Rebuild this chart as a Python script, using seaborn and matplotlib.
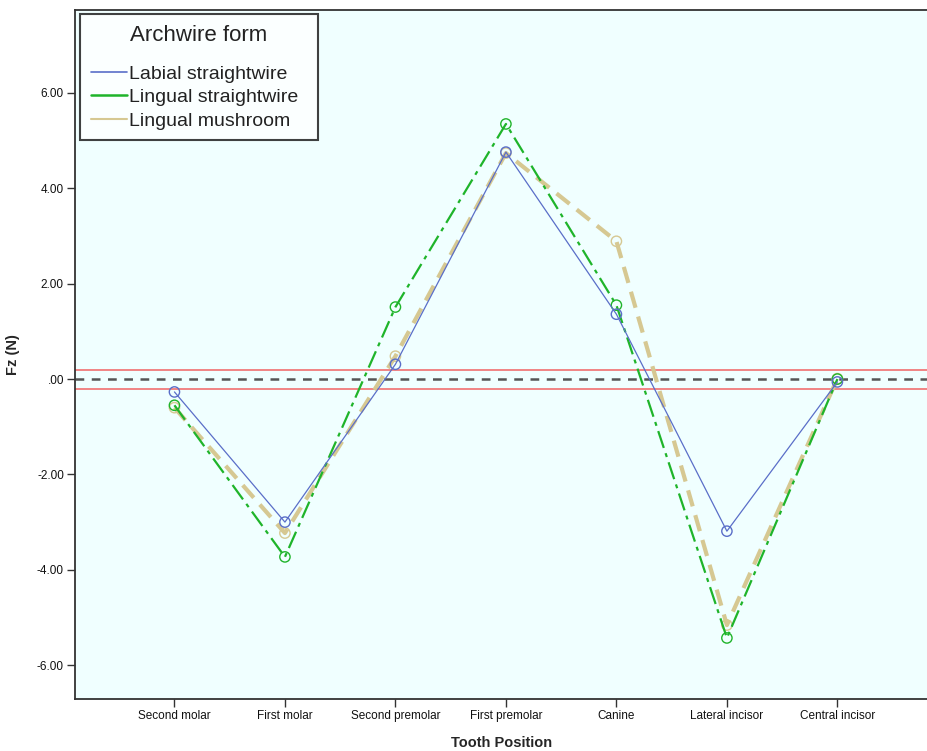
import numpy as np
import pandas as pd
import matplotlib
matplotlib.use("Agg")
import matplotlib.pyplot as plt
from matplotlib.lines import Line2D
from matplotlib.ticker import FuncFormatter
import seaborn as sns

# Tooth positions along the arch (x axis)
teeth = ["Second molar", "First molar", "Second premolar", "First premolar",
         "Canine", "Lateral incisor", "Central incisor"]

# Mean vertical force Fz (N) per archwire form
labial_straightwire = [-0.27, -3.00, 0.31, 4.76, 1.36, -3.19, -0.06]
lingual_straightwire = [-0.55, -3.73, 1.51, 5.35, 1.55, -5.43, 0.00]
lingual_mushroom = [-0.60, -3.23, 0.48, 4.74, 2.89, -5.16, 0.01]

series_names = ["Labial straightwire", "Lingual straightwire", "Lingual mushroom"]
series_values = [labial_straightwire, lingual_straightwire, lingual_mushroom]

# Reference band around zero
band_limits = [-0.2, 0.2]
y_ticks = [-6, -4, -2, 0, 2, 4, 6]

sns.set_theme(style="white")
plt.rcParams["font.family"] = ["Liberation Sans", "DejaVu Sans"]

df = pd.DataFrame({
    "Tooth Position": teeth * len(series_names),
    "Fz (N)": [v for vals in series_values for v in vals],
    "Archwire form": [n for n in series_names for _ in teeth],
})

fig = plt.figure(figsize=(9.28, 7.51), dpi=100)
ax = fig.add_axes([75 / 928, 52 / 751, 853 / 928, 689 / 751])
ax.set_facecolor("#F0FFFF")

styles = {
    "Labial straightwire": dict(color="#5A6EC8", lw=0.9, ls="-", z=4),
    "Lingual straightwire": dict(color="#1FB42A", lw=1.6, ls=(0, (8, 2.5, 1.8, 2.5)), z=3),
    "Lingual mushroom": dict(color="#D6C892", lw=3.0, ls=(0, (4, 2.2)), z=2),
}

# reference lines
ax.axhline(0, color="#555555", lw=1.8, ls=(0, (3.5, 3)), zorder=1)
for b in band_limits:
    ax.axhline(b, color="#F07070", lw=1.2, zorder=1)

for name in series_names:
    st = styles[name]
    sub = df[df["Archwire form"] == name]
    sns.lineplot(data=sub, x="Tooth Position", y="Fz (N)", ax=ax, sort=False,
                 color=st["color"], lw=st["lw"], linestyle=st["ls"],
                 zorder=st["z"], legend=False)
    sns.scatterplot(data=sub, x="Tooth Position", y="Fz (N)", ax=ax,
                    s=55, marker="o", facecolors="none",
                    edgecolor=st["color"], linewidth=1.0,
                    zorder=st["z"] + 0.5, legend=False)

ax.set_xlim(-0.9, 6.82)
ax.set_ylim(-6.71, 7.74)
ax.set_yticks(y_ticks)
ax.yaxis.set_major_formatter(FuncFormatter(
    lambda v, p: ".00" if abs(v) < 1e-9 else f"{v:.2f}"))

ax.tick_params(axis="both", which="both", direction="out", length=6,
               width=1, color="#333333", labelsize=8.5, labelcolor="#111111",
               left=True, bottom=True, pad=2)
ax.set_xlabel("Tooth Position", fontsize=10.5, fontweight="bold", labelpad=10)
ax.set_ylabel("Fz (N)", fontsize=10.5, fontweight="bold", labelpad=12)

for side in ["left", "bottom", "top"]:
    ax.spines[side].set_visible(True)
    ax.spines[side].set_color("#333333")
    ax.spines[side].set_linewidth(1.3)
ax.spines["right"].set_visible(False)

handles = [
    Line2D([], [], color="#5A6EC8", lw=1.2),
    Line2D([], [], color="#1FB42A", lw=1.8),
    Line2D([], [], color="#D6C892", lw=1.5),
]
leg = ax.legend(handles, series_names, title="Archwire form",
                loc="upper left", mode="expand",
                bbox_to_anchor=(5 / 853, 0, 238 / 853, 1 - 4 / 689),
                fontsize=14, title_fontsize=16, frameon=True, fancybox=False,
                handlelength=1.85, handletextpad=0.1, borderpad=0.55,
                labelspacing=0.3, borderaxespad=0)
leg._legend_box.sep = 14
leg.get_frame().set_edgecolor("#111111")
leg.get_frame().set_linewidth(1.5)
leg.get_frame().set_facecolor("white")
leg.get_title().set_color("#222222")
for t in leg.get_texts():
    t.set_color("#222222")

fig.savefig("out.png", dpi=100, facecolor="white")
